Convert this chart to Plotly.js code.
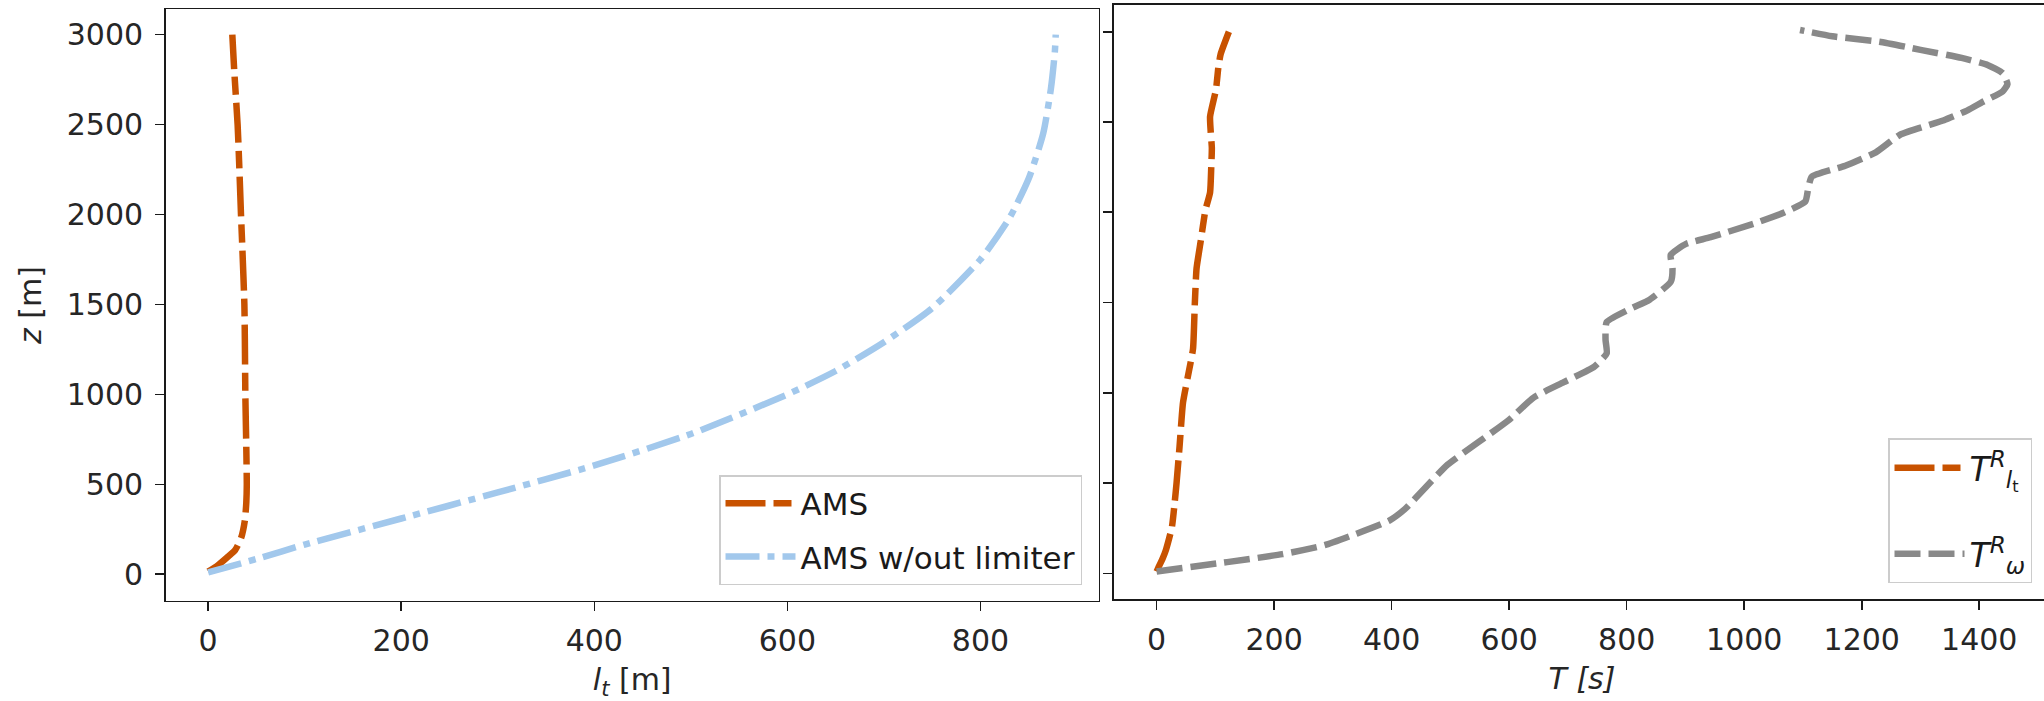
<!DOCTYPE html>
<html><head><meta charset="utf-8">
<script src="https://cdn.plot.ly/plotly-3.0.1.min.js"></script>
<style>html,body{margin:0;padding:0;overflow:hidden;background:#fff}#chart{width:2052px;height:701px}</style>
</head><body><div id="chart"></div>
<script>
// ---- data ----
const zAMS  = [15, 50, 100, 135, 200, 300, 400, 500, 700, 1000, 1300, 1500, 1800, 2000, 2300, 2500, 2800, 3000];
const ltAMS = [0, 10, 21, 28, 34, 38, 39.5, 40, 39.5, 38.5, 38, 37.5, 35.5, 34, 32, 30.5, 27, 25];

const zNoLim  = [10, 85, 165, 310, 455, 605, 780, 1000, 1130, 1290, 1480, 1750, 1980, 2200, 2450, 2700, 2900, 3000];
const ltNoLim = [0, 50, 100, 200, 300, 400, 500, 600, 650, 700, 750, 800, 830, 850, 865, 873, 877, 878];

const zTlt = [10, 32, 80, 131, 255, 400, 502, 700, 947, 1120, 1244, 1491, 1689, 1838, 2011, 2110, 2250, 2357, 2450, 2530, 2679, 2800, 2876, 3000];
const Tlt  = [0, 3, 10, 16, 26, 31, 34, 39, 45, 55, 62, 65, 68, 75, 83, 91, 93, 94, 92, 91, 101, 105, 109, 123];

const zTw = [10, 62, 106, 156, 218, 292, 354, 477, 601, 725, 848, 972, 1059, 1145, 1219, 1294, 1392, 1467, 1516, 1615, 1689, 1764, 1825, 1862, 1937, 1999, 2060, 2135, 2197, 2258, 2332, 2431, 2510, 2565, 2610, 2670, 2710, 2770, 2815, 2855, 2900, 2945, 2975, 3010];
const Tw  = [0, 120, 214, 286, 339, 396, 422, 458, 495, 547, 599, 641, 693, 745, 766, 764, 766, 807, 839, 875, 878, 875, 901, 943, 1016, 1068, 1104, 1109, 1115, 1172, 1224, 1266, 1340, 1380, 1405, 1440, 1448, 1440, 1415, 1370, 1300, 1230, 1150, 1095];

const zTicks  = [0, 500, 1000, 1500, 2000, 2500, 3000];
const ltTicks = [0, 200, 400, 600, 800];
const TTicks  = [0, 200, 400, 600, 800, 1000, 1200, 1400];

const names = ['AMS', 'AMS w/out limiter',
  '<i>T</i><sup><i>R</i></sup><sub><i>l</i><sub>t</sub></sub>',
  '<i>T</i><sup><i>R</i></sup><sub><i>ω</i></sub>'];

// ---- chart ----
const W = 2052, H = 701;
const ORANGE = '#C85200', BLUE = '#A2C8EC', GRAY = '#898989';
const FS = 30;

const traces = [
  {x: ltAMS, y: zAMS, xaxis:'x', yaxis:'y', mode:'lines', name:names[0], legend:'legend', legendgroup:'a',
   line:{color:ORANGE, width:6.5, dash:'40px,8px,18px,8px', shape:'spline', smoothing:0.6}},
  {x: ltNoLim, y: zNoLim, xaxis:'x', yaxis:'y', mode:'lines', name:names[1], legend:'legend', legendgroup:'b',
   line:{color:BLUE, width:6.5, dash:'34px,8px,7px,8px', shape:'spline', smoothing:0.6}},
  {x: Tlt, y: zTlt, xaxis:'x2', yaxis:'y2', mode:'lines', name:names[2], legend:'legend2', legendgroup:'c',
   line:{color:ORANGE, width:6.5, dash:'40px,8px,18px,8px', shape:'spline', smoothing:0.5}},
  {x: Tw, y: zTw, xaxis:'x2', yaxis:'y2', mode:'lines', name:names[3], legend:'legend2', legendgroup:'d',
   line:{color:GRAY, width:6.5, dash:'26px,8px', shape:'spline', smoothing:0.5}}
];

const common = {showline:true, mirror:true, linecolor:'#1a1a1a', linewidth:1.6,
  ticks:'outside', ticklen:9, tickwidth:1.6, tickcolor:'#1a1a1a',
  showgrid:false, zeroline:false,
  tickfont:{family:'DejaVu Sans', size:FS, color:'#262626'}};

const layout = {
  width: W, height: H, margin:{l:0, r:0, t:0, b:0},
  paper_bgcolor:'#fff', plot_bgcolor:'#fff',
  font:{family:'DejaVu Sans', size:FS, color:'#262626'},
  xaxis: Object.assign({}, common, {domain:[165.7/W, 1098.7/W], range:[-44, 922.5], tickvals:ltTicks,
    anchor:'y', ticklabelstandoff:4,
    title:{text:'<i>l</i><sub><i>t</i></sub> [m]', standoff:12, font:{size:FS}}}),
  yaxis: Object.assign({}, common, {domain:[(H-600.7)/H, (H-9.3)/H], range:[-147, 3141], tickvals:zTicks,
    anchor:'x', ticklabelstandoff:6,
    title:{text:'<i>z</i> [m]', standoff:16, font:{size:FS}}}),
  xaxis2: Object.assign({}, common, {domain:[1114/W, 2050/W], range:[-72.5, 1520.4], tickvals:TTicks,
    anchor:'y2', ticklabelstandoff:4,
    title:{text:'<i>T [s]</i>', standoff:12, font:{size:FS}}}),
  yaxis2: Object.assign({}, common, {domain:[(H-599.3)/H, (H-4.7)/H], range:[-144, 3150], tickvals:zTicks,
    anchor:'x2', showticklabels:false}),
  legend: {x:1082/W, xanchor:'right', y:(H-585)/H, yanchor:'bottom',
    bgcolor:'rgba(255,255,255,0.85)', bordercolor:'#cccccc', borderwidth:1.5,
    traceorder:'grouped', tracegroupgap:10,
    font:{family:'DejaVu Sans', size:31, color:'#1a1a1a'}, itemwidth:70},
  legend2: {x:2032/W, xanchor:'right', y:(H-583.4)/H, yanchor:'bottom',
    bgcolor:'rgba(255,255,255,0.85)', bordercolor:'#cccccc', borderwidth:1.5,
    traceorder:'grouped', tracegroupgap:40,
    font:{family:'DejaVu Sans', size:33, color:'#1a1a1a'}, itemwidth:70},
  showlegend:true
};

Plotly.newPlot('chart', traces, layout, {displayModeBar:false, staticPlot:true});
</script>
</body></html>
